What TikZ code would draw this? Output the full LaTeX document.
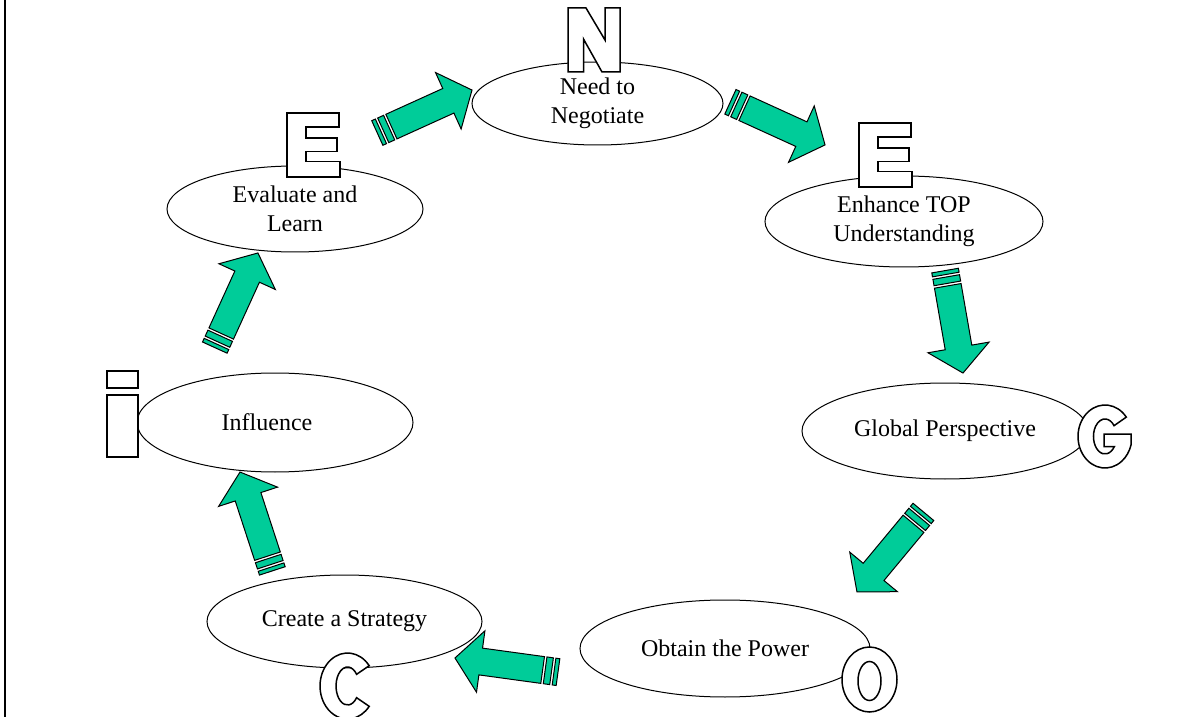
\documentclass[tikz,border=0pt]{standalone}
\usepackage{fontspec}
\setmainfont{Liberation Serif}
\usetikzlibrary{shapes.geometric}
\definecolor{arrowgreen}{RGB}{0,204,153}
\tikzset{
  stage/.style={ellipse, draw=black, fill=white, line width=0.5pt, inner sep=0pt,
    align=center, font=\fontsize{12}{14.5}\selectfont},
  letter/.style={draw=black, fill=white, line width=0.75pt, line join=miter},
  arrowpart/.style={draw=black, fill=arrowgreen, line width=0.5pt, line join=miter},
  blockarrow/.pic={
    \path[arrowpart] (0,-13.5) rectangle (4,13.5);
    \path[arrowpart] (6.5,-13.5) rectangle (13,13.5);
    \path[arrowpart] (15.5,-13.5) -- (78,-13.5) -- (78,-31) -- (104,0) -- (78,31)
      -- (78,13.5) -- (15.5,13.5) -- cycle;
  }
}
\begin{document}
\begin{tikzpicture}[x=0.5pt, y=-0.5pt]
\useasboundingbox (0,0) rectangle (1180,717);
\draw[line width=1pt] (5,0) -- (5,717);

% stages
\node[stage, minimum width=125.5pt, minimum height=41.5pt] (need) at (597.5,103.5) {Need to\\Negotiate};
\node[stage, minimum width=139pt, minimum height=45.5pt] (enh) at (904,221.5) {Enhance TOP\\Understanding};
\node[stage, minimum width=143pt, minimum height=48pt] (glob) at (945,431) {Global Perspective};
\node[stage, minimum width=145pt, minimum height=48.5pt] (obt) at (725,648.5) {Obtain the Power};
\node[stage, minimum width=137.5pt, minimum height=46.5pt] (cre) at (344.5,621.5) {Create a Strategy};
\node[stage, minimum width=138pt, minimum height=49.5pt] (inf) at (275,422.5) {\hspace*{-8pt}Influence};
\node[stage, minimum width=128pt, minimum height=43pt] (eva) at (295,209) {Evaluate and\\Learn};

% letters
\path[letter, shift={(568,8)}] (0,0) -- (18,0) -- (37,32) -- (37,0) -- (52,0) -- (52,64)
  -- (34,64) -- (15.5,31) -- (15.5,64) -- (0,64) -- cycle;
\path[letter, shift={(859,123)}] (0,0) -- (52,0) -- (52,14) -- (19,14) -- (19,25) -- (50,25)
  -- (50,38.5) -- (19,38.5) -- (19,48.5) -- (53,48.5) -- (53,64) -- (0,64) -- cycle;
\path[letter, shift={(287,113)}] (0,0) -- (52,0) -- (52,14) -- (19,14) -- (19,25) -- (50,25)
  -- (50,38.5) -- (19,38.5) -- (19,48.5) -- (53,48.5) -- (53,64) -- (0,64) -- cycle;
\path[letter, shift={(107,371)}] (0,0) rectangle (31,17) (0,24) rectangle (31,86);
% O
\path[letter, even odd rule] (869.5,679.5) ellipse [x radius=27.5, y radius=32.5]
  (869.5,681) ellipse [x radius=11.5, y radius=19.5];
% C
\path[letter] (369.2,665.7) arc[start angle=-38, end angle=-322, x radius=27.5, y radius=33]
  -- (356.6,697.7) arc[start angle=38, end angle=322, x radius=11.5, y radius=19] -- cycle;
% G
\path[letter] (1126.3,417.1) arc[start angle=-38, end angle=-345, x radius=27, y radius=31.5]
  -- (1131.1,434) -- (1104,434) -- (1104,446.5) -- (1114.4,446.5)
  arc[start angle=35, end angle=322, x radius=11.5, y radius=17.5] -- cycle;

% arrows
\pic[rotate=24.4] (a1) at (377.3,133) {blockarrow};
\pic[rotate=-24.5] (a2) at (730.4,101.8) {blockarrow};
\pic[rotate=-80.1] (a3) at (945.1,270.6) {blockarrow};
\pic[rotate=-129.7] (a4) at (923.4,511.9) {blockarrow};
\pic[rotate=172.2] (a5) at (558,672.1) {blockarrow};
\pic[rotate=108.1] (a6) at (272.3,570.9) {blockarrow};
\pic[rotate=65.5] (a7) at (214.8,347.6) {blockarrow};
\end{tikzpicture}
\end{document}
